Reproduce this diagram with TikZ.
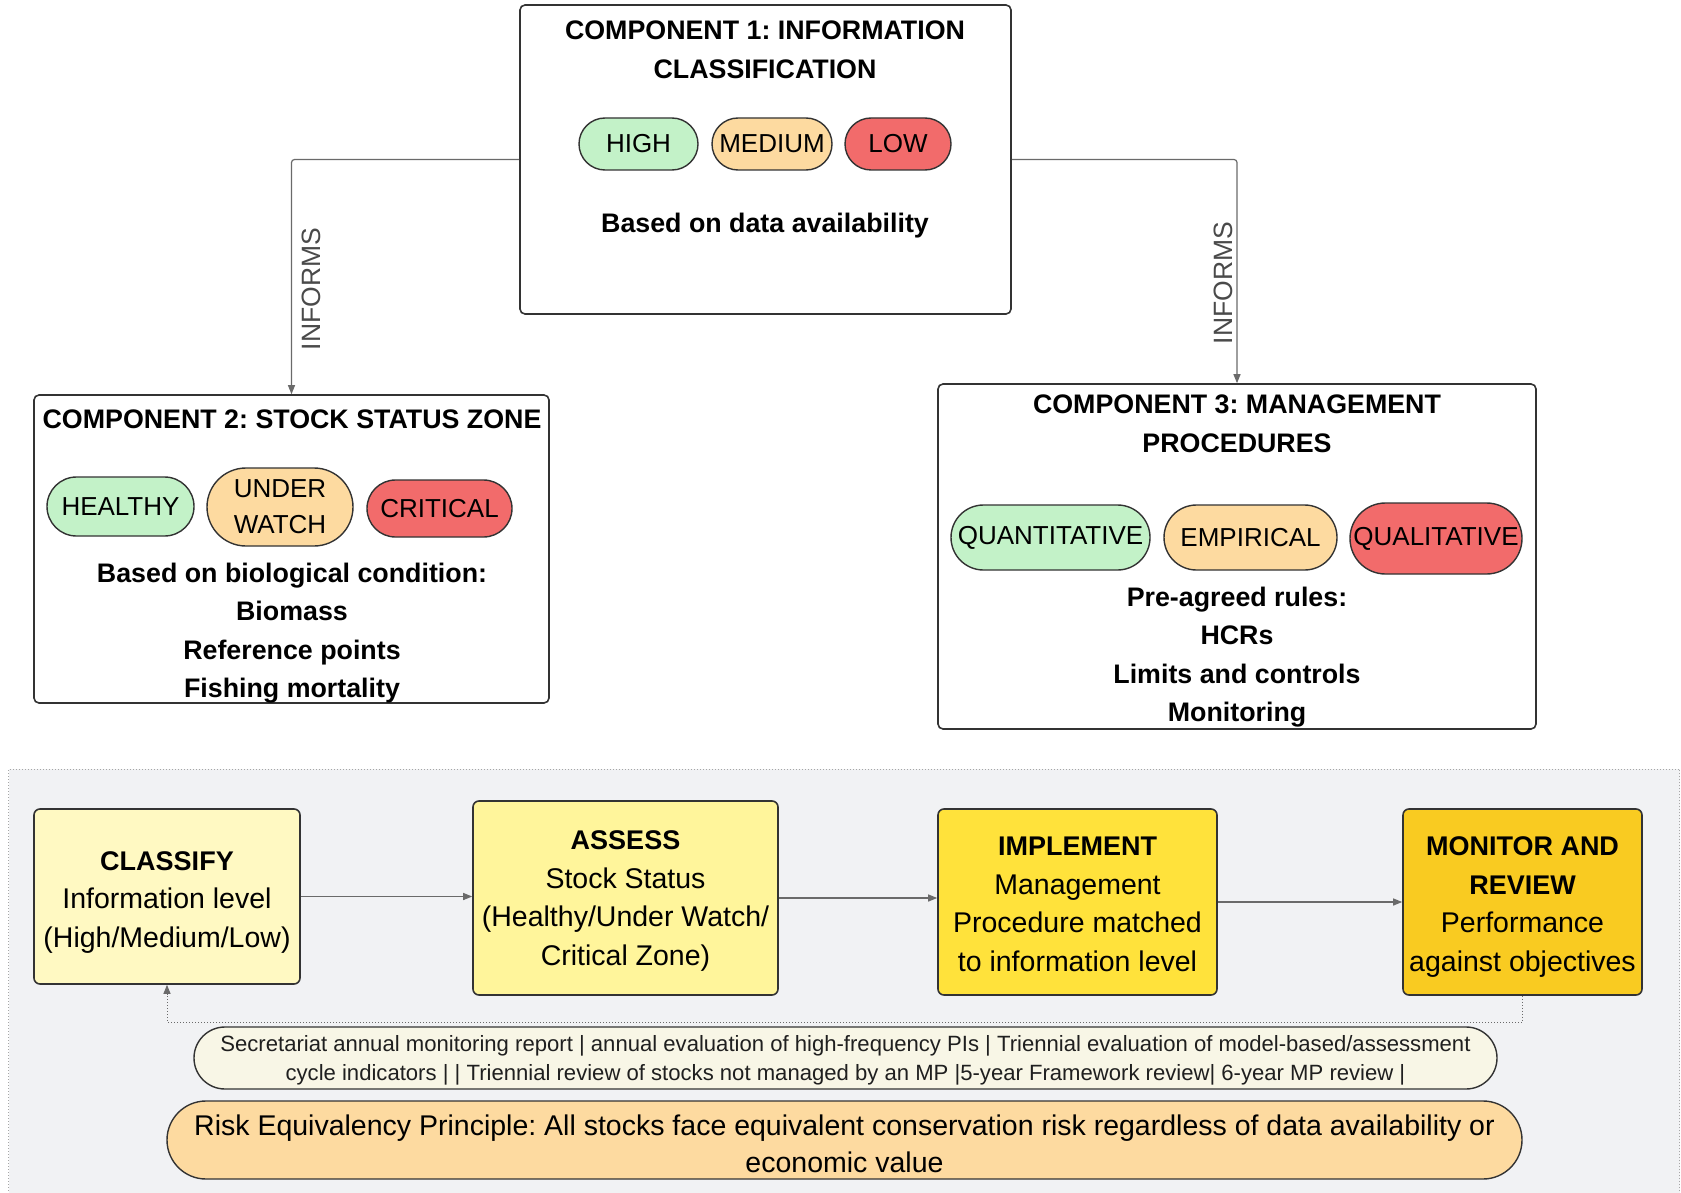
\documentclass[tikz,border=0pt]{standalone}
\usepackage{fontspec}
\setmainfont{Liberation Sans}
\usetikzlibrary{arrows.meta}
\frenchspacing
\definecolor{pgreen}{HTML}{C3F2C8}
\definecolor{porange}{HTML}{FDDAA0}
\definecolor{pred}{HTML}{F26B6B}
\definecolor{panelbg}{HTML}{F1F2F4}
\definecolor{fclass}{HTML}{FFF9C2}
\definecolor{fassess}{HTML}{FFF59B}
\definecolor{fimpl}{HTML}{FFE23B}
\definecolor{fmon}{HTML}{F9CB21}
\definecolor{fcream}{HTML}{F8F6E6}
\definecolor{edge}{HTML}{333333}
\definecolor{conn}{HTML}{6A6A6A}
\definecolor{labgray}{HTML}{4A4A4A}
\tikzset{
  x=1pt, y=-1pt,
  compbox/.style={draw=edge, line width=1.6pt, fill=white, rounded corners=5pt, inner sep=0pt},
  flowbox/.style={draw=edge, line width=1.6pt, rounded corners=6pt, inner sep=0pt},
  pill/.style={draw=edge, line width=1.4pt, inner sep=0pt, align=center, font=\fontsize{26}{36}\selectfont},
  btxt/.style={align=center, inner sep=0pt, font=\fontsize{26.8}{38.5}\selectfont\bfseries},
  ftxt/.style={align=center, inner sep=0pt, font=\fontsize{28.5}{38.5}\selectfont},
  conarrow/.style={draw=conn, line width=1.2pt, -{Triangle[length=9pt,width=7pt]}},
  infolabel/.style={rotate=90, inner sep=0pt, text=labgray, font=\fontsize{26.5}{30}\selectfont},
}
\newcommand{\fbold}[1]{{\fontsize{27}{38.5}\selectfont\bfseries #1}}
\begin{document}
\begin{tikzpicture}
\useasboundingbox (0,0) rectangle (1681,1193);
\fill[white] (0,0) rectangle (1681,1193);

% ---- top components ----
\node[compbox, minimum width=491pt, minimum height=309pt] (c1) at (765.5,159.5) {};
\node[btxt] (c1t) at (765,50) {COMPONENT 1: INFORMATION\\CLASSIFICATION};
\node[pill, fill=pgreen, minimum width=119pt, minimum height=52pt, rounded corners=26pt] (high) at (638.5,144) {HIGH};
\node[pill, fill=porange, minimum width=120pt, minimum height=52pt, rounded corners=26pt] (medium) at (772,144) {MEDIUM};
\node[pill, fill=pred, minimum width=106pt, minimum height=52pt, rounded corners=26pt] (low) at (898,144) {LOW};
\node[btxt] (c1b) at (765,226) {Based on data availability};

\node[compbox, minimum width=515pt, minimum height=308pt] (c2) at (291.5,549) {};
\node[btxt] (c2t) at (292,419) {COMPONENT 2: STOCK STATUS ZONE};
\node[pill, fill=pgreen, minimum width=147pt, minimum height=59pt, rounded corners=29.5pt] (healthy) at (120.5,506.5) {HEALTHY};
\node[pill, fill=porange, minimum width=146pt, minimum height=78pt, rounded corners=39pt] (under) at (280,507) {UNDER\\WATCH};
\node[pill, fill=pred, minimum width=145pt, minimum height=57pt, rounded corners=28.5pt] (critical) at (439.5,508.5) {CRITICAL};
\node[btxt] (c2b) at (292,633) {Based on biological condition:\\Biomass\\Reference points\\Fishing mortality};

\node[compbox, minimum width=598pt, minimum height=345pt] (c3) at (1237,556.5) {};
\node[btxt] (c3t) at (1237,424) {COMPONENT 3: MANAGEMENT\\PROCEDURES};
\node[pill, fill=pgreen, minimum width=199pt, minimum height=65pt, rounded corners=32.5pt] (quant) at (1050.5,537.5) {QUANTITATIVE};
\node[pill, fill=porange, minimum width=173pt, minimum height=65pt, rounded corners=32.5pt] (emp) at (1250.5,537.5) {EMPIRICAL};
\node[pill, fill=pred, minimum width=172pt, minimum height=71pt, rounded corners=35.5pt] (qual) at (1436,538.5) {QUALITATIVE};
\node[btxt] (c3b) at (1237,657) {Pre-agreed rules:\\HCRs\\Limits and controls\\Monitoring};

% ---- connectors ----
\draw[conarrow, rounded corners=3pt] (c1.west) -| (c2.north);
\draw[conarrow, rounded corners=3pt] (c1.east) -| (c3.north);
\node[infolabel] (inf1) at (311,289) {INFORMS};
\node[infolabel] (inf2) at (1223,283) {INFORMS};

% ---- bottom panel ----
\node[draw=gray!70, dotted, line width=1pt, fill=panelbg, minimum width=1671pt, minimum height=440pt, inner sep=0pt] (panel) at (844,989) {};

\node[flowbox, fill=fclass, minimum width=266pt, minimum height=175pt] (classify) at (167,896.5) {};
\node[ftxt] (classifyt) at (167,902.5) {\fbold{CLASSIFY}\\Information level\\(High/Medium/Low)};

\node[flowbox, fill=fassess, minimum width=305pt, minimum height=194pt] (assess) at (625.5,898) {};
\node[ftxt] (assesst) at (625.5,901) {\fbold{ASSESS}\\Stock Status\\(Healthy/Under Watch/\\Critical Zone)};

\node[flowbox, fill=fimpl, minimum width=279pt, minimum height=186pt] (impl) at (1077.5,902) {};
\node[ftxt] (implt) at (1077.5,904.5) {\fbold{IMPLEMENT}\\Management\\Procedure matched\\to information level};

\node[flowbox, fill=fmon, minimum width=239pt, minimum height=186pt] (mon) at (1522.5,902) {};
\node[ftxt] (mont) at (1522.5,907) {\fbold{MONITOR AND}\\\fbold{REVIEW}\\Performance\\against objectives};

\draw[conarrow] (classify.east) -- (classify.east -| assess.west);
\draw[conarrow] (assess.east) -- (assess.east -| impl.west);
\draw[conarrow] (impl.east) -- (mon.west);

\coordinate (fbr) at (1522.5,1022);
\coordinate (fbl) at (167,1022);
\draw[draw=conn, line width=1pt, dotted, -{Triangle[length=9pt,width=7pt]}] (mon.south) -- (fbr) -- (fbl) -- (classify.south);

\node[draw=edge, line width=1.4pt, fill=fcream, minimum width=1303pt, minimum height=62pt, rounded corners=31pt, inner sep=0pt] (mrep) at (845.5,1058) {};
\node[align=center, inner sep=0pt, text=black!88, font=\fontsize{22.1}{29}\selectfont] (mrept) at (845.5,1060) {Secretariat annual monitoring report | annual evaluation of high-frequency PIs | Triennial evaluation of model-based/assessment\\cycle indicators | | Triennial review of stocks not managed by an MP |5-year Framework review| 6-year MP review |};

\node[draw=edge, line width=1.4pt, fill=porange, minimum width=1355pt, minimum height=78pt, rounded corners=39pt, inner sep=0pt] (risk) at (844.5,1140) {};
\node[align=center, inner sep=0pt, font=\fontsize{28.5}{37}\selectfont] (riskt) at (844.5,1143.5) {Risk Equivalency Principle: All stocks face equivalent conservation risk regardless of data availability or\\economic value};
\end{tikzpicture}
\end{document}
